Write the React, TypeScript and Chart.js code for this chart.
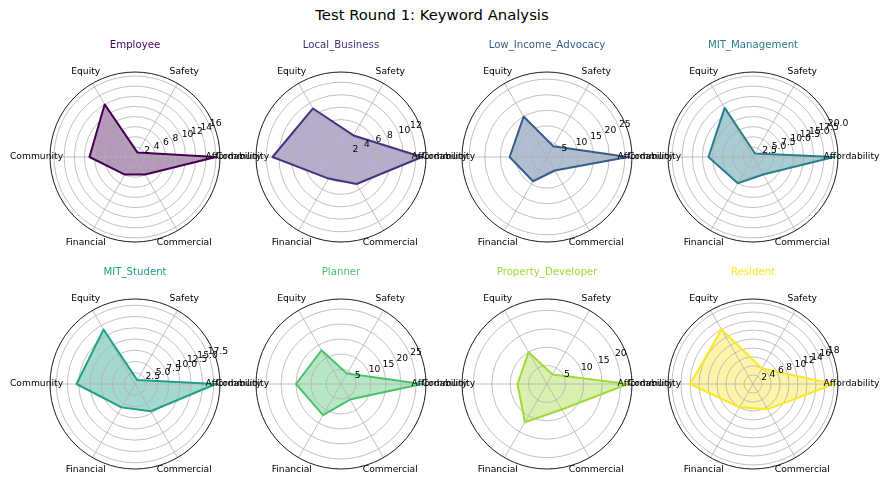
import React, { useEffect, useRef } from "react";
import { Chart, registerables } from "chart.js";

Chart.register(...registerables);
Chart.defaults.font.family = "'DejaVu Sans', sans-serif";

// ---- data (matplotlib order: counter-clockwise from east) ----
const categories = ["Affordability", "Safety", "Equity", "Community", "Financial", "Commercial"];
const stakeholders = [
  "Employee",
  "Local_Business",
  "Low_Income_Advocacy",
  "MIT_Management",
  "MIT_Student",
  "Planner",
  "Property_Developer",
  "Resident",
];

const employee = [16, 1, 12, 9, 4, 4];
const localBusiness = [13, 4, 9, 11, 4, 5];
const lowIncomeAdvocacy = [26, 4, 15, 12, 9, 5];
const mitManagement = [20, 1, 14, 11, 7.5, 5];
const mitStudent = [18, 1, 14, 13, 6, 7];
const planner = [27, 4, 13, 15, 12, 6];
const propertyDeveloper = [22, 3, 10, 8, 12, 8];
const resident = [18, 4, 14, 14, 6, 6.5];

const seriesValues = [
  employee,
  localBusiness,
  lowIncomeAdvocacy,
  mitManagement,
  mitStudent,
  planner,
  propertyDeveloper,
  resident,
];

const ticksEmployee = ["2", "4", "6", "8", "10", "12", "14", "16"];
const ticksLocalBusiness = ["2", "4", "6", "8", "10", "12"];
const ticksLowIncome = ["5", "10", "15", "20", "25"];
const ticksMitManagement = ["2.5", "5.0", "7.5", "10.0", "12.5", "15.0", "17.5", "20.0"];
const ticksMitStudent = ["2.5", "5.0", "7.5", "10.0", "12.5", "15.0", "17.5"];
const ticksPlanner = ["5", "10", "15", "20", "25"];
const ticksPropertyDeveloper = ["5", "10", "15", "20"];
const ticksResident = ["2", "4", "6", "8", "10", "12", "14", "16", "18"];

const tickLabels = [
  ticksEmployee,
  ticksLocalBusiness,
  ticksLowIncome,
  ticksMitManagement,
  ticksMitStudent,
  ticksPlanner,
  ticksPropertyDeveloper,
  ticksResident,
];

const colors = ["#440154", "#46327e", "#365c8d", "#277f8e", "#1fa187", "#4ac16d", "#a0da39", "#fde725"];

// ---- layout ----
const colCenters = [135, 341, 547, 753];
const rowCenters = [157, 384];
const CW = 300;
const CH = 240;
const RADIUS = 85;

// chart.js goes clockwise from startAngle; map to matplotlib's counter-clockwise order
const chartOrder = [0, 5, 4, 3, 2, 1];

function hexToRgba(hex: string, a: number) {
  const n = parseInt(hex.slice(1), 16);
  return `rgba(${(n >> 16) & 255}, ${(n >> 8) & 255}, ${n & 255}, ${a})`;
}

function Radar({ index }: { index: number }) {
  const ref = useRef<HTMLCanvasElement>(null);
  const cx = colCenters[index % 4];
  const cy = rowCenters[Math.floor(index / 4)];

  useEffect(() => {
    if (!ref.current) return;
    const vals = seriesValues[index];
    const rmax = Math.max(...vals) * 1.05;
    const color = colors[index];
    const labels = chartOrder.map((i) => categories[i]);
    const data = chartOrder.map((i) => vals[i]);
    const ticks = tickLabels[index];
    const step = parseFloat(ticks[1]) - parseFloat(ticks[0]);

    const mplPlugin = {
      id: "mplDecor",
      afterDraw(chart: any) {
        const s = chart.scales.r;
        const ctx = chart.ctx as CanvasRenderingContext2D;
        ctx.save();
        ctx.beginPath();
        ctx.arc(s.xCenter, s.yCenter, s.drawingArea, 0, Math.PI * 2);
        ctx.strokeStyle = "#000000";
        ctx.lineWidth = 0.9;
        ctx.stroke();

        ctx.fillStyle = "#000000";
        ctx.font = "9.2px 'DejaVu Sans'";
        ctx.textAlign = "left";
        ctx.textBaseline = "bottom";
        const a = (22.5 * Math.PI) / 180;
        ticks.forEach((t) => {
          const d = s.getDistanceFromCenterForValue(parseFloat(t));
          ctx.fillText(t, s.xCenter + d * Math.cos(a), s.yCenter - d * Math.sin(a) + 2);
        });

        ctx.textAlign = "center";
        ctx.textBaseline = "middle";
        labels.forEach((l, i) => {
          const p = s.getPointPosition(i, s.drawingArea + 13.5);
          ctx.fillText(l, p.x, p.y);
        });

        ctx.font = "10.2px 'DejaVu Sans'";
        ctx.fillStyle = color;
        ctx.fillText(stakeholders[index], s.xCenter, s.yCenter - 112);
        ctx.restore();
      },
    };

    const padX = (CW - 2 * RADIUS) / 2;
    const padY = (CH - 2 * RADIUS) / 2;

    const chart = new Chart(ref.current, {
      type: "radar",
      data: {
        labels,
        datasets: [
          {
            data,
            borderColor: color,
            backgroundColor: hexToRgba(color, 0.4),
            borderWidth: 2,
            borderJoinStyle: "round",
            pointRadius: 0,
            pointHoverRadius: 0,
            fill: true,
            tension: 0,
          },
        ],
      },
      options: {
        responsive: false,
        animation: false,
        events: [],
        layout: { padding: { top: padY, bottom: padY, left: padX, right: padX } },
        plugins: {
          legend: { display: false },
          tooltip: { enabled: false },
          title: { display: false },
          filler: { drawTime: "beforeDraw" },
        },
        scales: {
          r: {
            min: 0,
            max: rmax,
            startAngle: 90,
            ticks: { display: false, stepSize: step, includeBounds: false },
            pointLabels: { display: false },
            grid: { color: "#b0b0b0", lineWidth: 0.8, circular: true },
            angleLines: { color: "#b0b0b0", lineWidth: 0.8 },
          },
        },
      },
      plugins: [mplPlugin],
    } as any);
    return () => chart.destroy();
  }, [index]);

  return (
    <canvas
      ref={ref}
      width={CW}
      height={CH}
      style={{ position: "absolute", left: cx - CW / 2, top: cy - CH / 2, width: CW, height: CH }}
    />
  );
}

export default function App() {
  return (
    <div
      style={{
        position: "fixed",
        left: 0,
        top: 0,
        width: 883,
        height: 480,
        background: "#ffffff",
        overflow: "hidden",
      }}
    >
      <div
        style={{
          position: "absolute",
          left: 0,
          top: 6,
          width: 864,
          textAlign: "center",
          fontFamily: "'DejaVu Sans', sans-serif",
          fontSize: "14.8px",
          lineHeight: "18px",
          color: "#000",
        }}
      >
        Test Round 1: Keyword Analysis
      </div>
      {stakeholders.map((_, i) => (
        <Radar key={i} index={i} />
      ))}
    </div>
  );
}
